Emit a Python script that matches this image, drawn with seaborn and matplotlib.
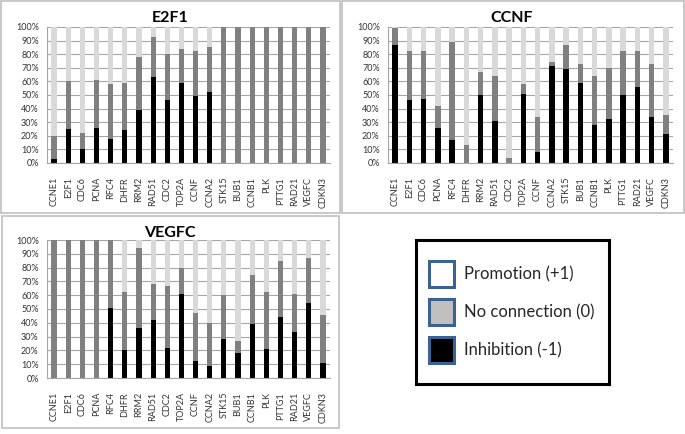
import matplotlib
matplotlib.use("Agg")
import matplotlib.pyplot as plt
import numpy as np
import pandas as pd
import seaborn as sns
from matplotlib.patches import Patch, Rectangle

genes = ["CCNE1", "E2F1", "CDC6", "PCNA", "RFC4", "DHFR", "RRM2", "RAD51", "CDC2", "TOP2A",
         "CCNF", "CCNA2", "STK15", "BUB1", "CCNB1", "PLK", "PTTG1", "RAD21", "VEGFC", "CDKN3"]

# percentages per gene: inhibition (-1), no connection (0); promotion (+1) is the rest
e2f1_inhibition = [3, 25, 10, 26, 18, 24, 39, 63, 46, 59, 49, 52, 0, 0, 0, 0, 0, 0, 0, 0]
e2f1_no_connection = [17, 35, 12, 35, 40, 35, 39, 30, 34, 25, 33, 33, 100, 100, 100, 100, 100, 100, 100, 100]

ccnf_inhibition = [87, 46, 47, 26, 17, 0, 50, 31, 0, 51, 8, 71, 69, 59, 28, 32, 50, 56, 34, 21]
ccnf_no_connection = [12, 36, 35, 16, 72, 13, 17, 33, 4, 7, 26, 3, 18, 14, 36, 38, 32, 26, 39, 14]

vegfc_inhibition = [0, 0, 0, 0, 51, 20, 36, 42, 22, 61, 12, 9, 28, 18, 39, 21, 44, 33, 54, 11]
vegfc_no_connection = [100, 100, 100, 100, 49, 42, 58, 26, 45, 19, 35, 31, 32, 9, 36, 41, 41, 28, 33, 35]

legend_labels = ["Promotion (+1)", "No connection (0)", "Inhibition (-1)"]

sns.set_style("white")
plt.rcParams["font.family"] = ["Lato", "DejaVu Sans"]

C_PROM = "#d9d9d9"
C_NONE = "#808080"
C_INH = "#000000"
GRID = "#a6a6a6"


def stacked_panel(ax, title, inhibition, no_connection, title_x, title_y):
    inh = np.array(inhibition, dtype=float)
    nc = np.array(no_connection, dtype=float)
    prom = 100 - inh - nc
    df = pd.DataFrame({"gene": genes, "inh": inh, "mid": inh + nc, "top": inh + nc + prom})

    ax.set_axisbelow(True)
    ax.yaxis.grid(True, color=GRID, lw=0.8)
    sns.barplot(data=df, x="gene", y="top", color=C_PROM, saturation=1, width=0.37, ax=ax)
    sns.barplot(data=df, x="gene", y="mid", color=C_NONE, saturation=1, width=0.37, ax=ax)
    sns.barplot(data=df, x="gene", y="inh", color=C_INH, saturation=1, width=0.37, ax=ax)
    for p in ax.patches:
        p.set_linewidth(0)

    ax.set_xlim(-0.5, len(genes) - 0.5)
    ax.set_ylim(0, 100)
    ax.set_yticks(np.arange(0, 101, 10))
    ax.set_yticklabels([f"{v}%" for v in range(0, 101, 10)])
    ax.set_xticks(range(len(genes)))
    ax.set_xticklabels(genes, rotation=90)
    ax.set_xticks(np.arange(-0.5, len(genes), 1), minor=True)
    ax.tick_params(axis="x", which="major", length=0, pad=10, labelsize=6.5, colors="#333333")
    ax.tick_params(axis="x", which="minor", length=4, color=GRID, width=0.8)
    ax.tick_params(axis="y", length=4, color=GRID, width=0.8, labelsize=6.5, colors="#333333", pad=2)
    ax.set_xlabel("")
    ax.set_ylabel("")
    for s in ["top", "right"]:
        ax.spines[s].set_visible(False)
    for s in ["left", "bottom"]:
        ax.spines[s].set_color(GRID)
        ax.spines[s].set_linewidth(0.8)
    ax.figure.text(title_x, title_y, title, ha="center", va="center",
                   fontsize=11.5, fontweight="bold", color="#000000")


fig = plt.figure(figsize=(6.85, 4.34), dpi=100)
W, H = 685, 434


def frac_rect(x0, y0, x1, y1):
    return [x0 / W, 1 - y1 / H, (x1 - x0) / W, (y1 - y0) / H]


# chart frames
for (x0, y0, x1, y1) in [(1, 1, 340, 213), (342, 1, 684, 213), (2, 216, 339, 428)]:
    r = frac_rect(x0, y0, x1, y1)
    fig.add_artist(Rectangle((r[0], r[1]), r[2], r[3], transform=fig.transFigure,
                             fill=False, edgecolor="#bfbfbf", lw=1.2))

ax1 = fig.add_axes(frac_rect(47, 27, 330, 163))
stacked_panel(ax1, "E2F1", e2f1_inhibition, e2f1_no_connection, 170 / W, 1 - 18 / H)

ax2 = fig.add_axes(frac_rect(388, 27, 673, 163))
stacked_panel(ax2, "CCNF", ccnf_inhibition, ccnf_no_connection, 512 / W, 1 - 18 / H)

ax3 = fig.add_axes(frac_rect(47, 240, 330, 378))
stacked_panel(ax3, "VEGFC", vegfc_inhibition, vegfc_no_connection, 170 / W, 1 - 233 / H)

# legend box
lax = fig.add_axes(frac_rect(416, 240, 609, 384))
lax.set_xticks([])
lax.set_yticks([])
for s in lax.spines.values():
    s.set_color("black")
    s.set_linewidth(2.2)
handles = [Patch(facecolor=c, edgecolor="#3d6190", linewidth=2.2) for c in ["#ffffff", "#c0c0c0", "#000000"]]
lax.legend(handles, legend_labels, loc="center left", bbox_to_anchor=(0.0, 0.5), frameon=False,
           fontsize=12, handlelength=1.45, handleheight=2.0, labelspacing=0.75,
           handletextpad=0.6, borderaxespad=0.4, labelcolor="#262626")

fig.savefig("out.png", dpi=100)
